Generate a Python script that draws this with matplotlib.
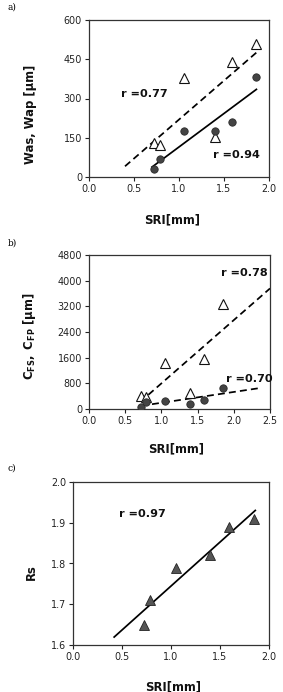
import numpy as np
import matplotlib
matplotlib.use("Agg")
import matplotlib.pyplot as plt

# ---------------- data ----------------
sri = [0.72, 0.79, 1.05, 1.40, 1.59, 1.85]

# panel a
was = [30, 68, 177, 177, 212, 383]      # filled circles
wap = [130, 122, 380, 152, 440, 510]    # open triangles
r_a = ["r =0.94", "r =0.77"]

# panel b
cfs = [70, 230, 250, 145, 280, 660]     # filled circles
cfp = [410, 360, 1440, 490, 1570, 3280] # open triangles
r_b = ["r =0.70", "r =0.78"]

# panel c
rs = [1.65, 1.71, 1.79, 1.82, 1.89, 1.91]
r_c = ["r =0.97"]

xt_a = [0.0, 0.5, 1.0, 1.5, 2.0]
yt_a = [0, 150, 300, 450, 600]
xt_b = [0.0, 0.5, 1.0, 1.5, 2.0, 2.5]
yt_b = [0, 800, 1600, 2400, 3200, 4000, 4800]
xt_c = [0.0, 0.5, 1.0, 1.5, 2.0]
yt_c = [1.6, 1.7, 1.8, 1.9, 2.0]

plt.rcParams['font.family'] = ['DejaVu Sans']
plt.rcParams['mathtext.fontset'] = 'dejavusans'

W, H = 283, 692
fig = plt.figure(figsize=(W / 100, H / 100), dpi=100)
fig.patch.set_facecolor('white')


def axes_px(l, t, r, b):
    return fig.add_axes([l / W, 1 - b / H, (r - l) / W, (b - t) / H])


def style(ax, xt, yt, xfmt, yfmt):
    ax.set_xticks(xt)
    ax.set_yticks(yt)
    ax.set_xticklabels([xfmt.format(v) for v in xt])
    ax.set_yticklabels([yfmt.format(v) for v in yt])
    ax.set_xlim(xt[0], xt[-1])
    ax.set_ylim(yt[0], yt[-1])
    ax.tick_params(direction='out', length=3, width=0.8, labelsize=6.9,
                   colors='#222222', pad=2)
    for s in ax.spines.values():
        s.set_linewidth(0.9)
        s.set_color('#333333')


def fitline(ax, x, y, x0, x1, **kw):
    k, c = np.polyfit(x, y, 1)
    xx = np.array([x0, x1])
    ax.plot(xx, k * xx + c, **kw)


circ = dict(marker='o', ls='none', ms=5.3, mfc='#444444', mec='#2a2a2a', mew=0.6, zorder=3)
tri_open = dict(marker='^', ls='none', ms=6.5, mfc='white', mec='#111111', mew=0.8, zorder=3)
tri_fill = dict(marker='^', ls='none', ms=7.0, mfc='#555555', mec='#222222', mew=0.6, zorder=3)
dash = dict(color='black', lw=1.25, ls=(0, (4, 2.4)), zorder=2)
solid = dict(color='black', lw=1.25, ls='-', zorder=2)
rtxt = dict(fontsize=8.1, fontweight='bold', ha='left', va='center', color='#111111')
lblkw = dict(fontsize=8.4, fontweight='bold', color='#111111')

# ---------------- panel a ----------------
ax = axes_px(89, 20, 269, 177)
style(ax, xt_a, yt_a, "{:.1f}", "{:d}")
fitline(ax, sri, wap, 0.40, 1.86, **dash)
fitline(ax, sri, was, 0.70, 1.86, **solid)
ax.plot(sri, wap, **tri_open)
ax.plot(sri, was, **circ)
ax.text(1.38, 84, r_a[0], **rtxt)
ax.text(0.36, 316, r_a[1], **rtxt)
ax.set_xlabel("SRI[mm]", **lblkw)
ax.xaxis.set_label_coords(0.46, -0.229)
ax.set_ylabel("Was, Wap [μm]", **lblkw)
ax.yaxis.set_label_coords(-0.289, 0.40)
fig.text(8 / W, 1 - 7 / H, "a)", family='DejaVu Serif', fontsize=6.5, va='center', ha='left')

# ---------------- panel b ----------------
ax = axes_px(89, 255, 270, 409)
style(ax, xt_b, yt_b, "{:.1f}", "{:d}")
fitline(ax, sri, cfp, 0.82, 2.5, **dash)
fitline(ax, sri, cfs, 0.87, 2.37, **dash)
ax.plot(sri, cfp, **tri_open)
ax.plot(sri, cfs, **circ)
ax.text(1.89, 950, r_b[0], **rtxt)
ax.text(1.83, 4240, r_b[1], **rtxt)
ax.set_xlabel("SRI[mm]", **lblkw)
ax.xaxis.set_label_coords(0.48, -0.214)
ax.set_ylabel(r"$\mathbf{C_{FS},\ C_{FP}}$ [μm]", **lblkw)
ax.yaxis.set_label_coords(-0.28, 0.474)
fig.text(8 / W, 1 - 243 / H, "b)", family='DejaVu Serif', fontsize=6.5, va='center', ha='left')

# ---------------- panel c ----------------
ax = axes_px(73, 482, 269, 645)
style(ax, xt_c, yt_c, "{:.1f}", "{:.1f}")
fitline(ax, sri, rs, 0.42, 1.86, **solid)
ax.plot(sri, rs, **tri_fill)
ax.text(0.47, 1.921, r_c[0], **rtxt)
ax.set_xlabel("SRI[mm]", **lblkw)
ax.xaxis.set_label_coords(0.513, -0.215)
ax.set_ylabel("Rs", **lblkw)
ax.yaxis.set_label_coords(-0.179, 0.448)
fig.text(8 / W, 1 - 468 / H, "c)", family='DejaVu Serif', fontsize=6.5, va='center', ha='left')

fig.savefig("out.png", dpi=100, facecolor='white')
